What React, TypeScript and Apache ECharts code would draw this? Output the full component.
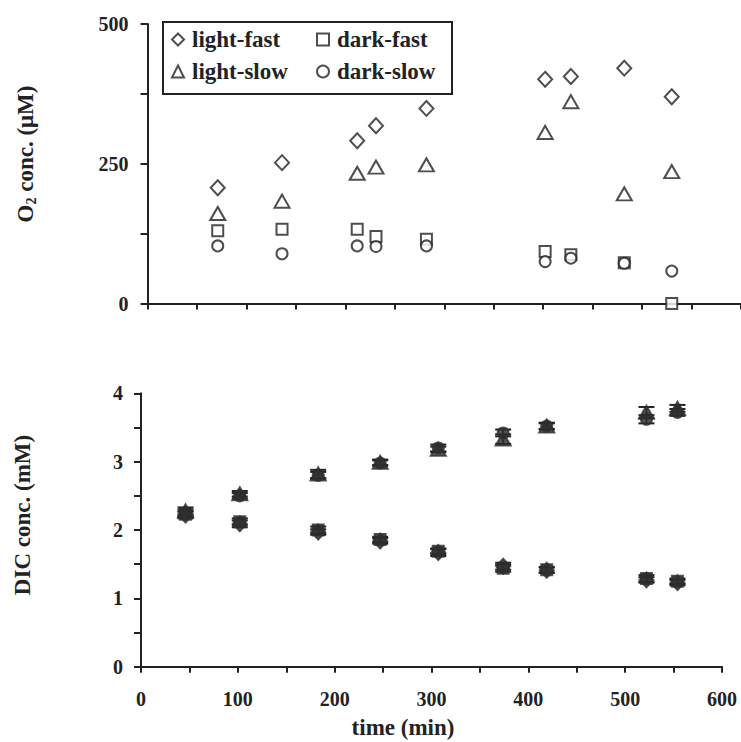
import React, { useEffect, useRef } from "react";
import * as echarts from "echarts";

// ---- Data ----
const SERIES_NAMES = ["light-fast", "dark-fast", "light-slow", "dark-slow"];

// O2 panel (top)
const O2_TIMES = [71, 136, 212, 231, 282, 402, 428, 482, 530];
const O2_LIGHT_FAST = [207, 252, 291, 318, 349, 401, 406, 421, 370];
const O2_LIGHT_SLOW = [161, 183, 233, 244, 248, 306, 361, 196, 236];
const O2_DARK_FAST = [130, 133, 133, 120, 115, 93, 87, 73, 0];
const O2_DARK_SLOW = [103, 89, 103, 102, 103, 75, 81, 72, 58];

// DIC panel (bottom)
const DIC_TIMES = [46, 102, 183, 247, 307, 374, 419, 522, 554];
const DIC_LIGHT_FAST = [2.22, 2.09, 1.97, 1.84, 1.67, 1.47, 1.41, 1.27, 1.23];
const DIC_DARK_FAST = [2.23, 2.12, 2.0, 1.86, 1.69, 1.44, 1.42, 1.29, 1.25];
const DIC_LIGHT_SLOW = [2.28, 2.53, 2.82, 2.99, 3.18, 3.33, 3.52, 3.72, 3.78];
const DIC_DARK_SLOW = [2.25, 2.5, 2.8, 2.98, 3.2, 3.42, 3.52, 3.62, 3.72];
const DIC_LIGHT_FAST_ERR = [0.05, 0.05, 0.04, 0.04, 0.05, 0.05, 0.04, 0.04, 0.04];
const DIC_DARK_FAST_ERR = [0.04, 0.05, 0.05, 0.04, 0.04, 0.05, 0.04, 0.05, 0.04];
const DIC_LIGHT_SLOW_ERR = [0.05, 0.04, 0.06, 0.04, 0.04, 0.07, 0.04, 0.08, 0.05];
const DIC_DARK_SLOW_ERR = [0.05, 0.04, 0.05, 0.04, 0.05, 0.05, 0.05, 0.06, 0.05];

const O2_Y_TICKS = [0, 250, 500];
const DIC_Y_TICKS = [0, 1, 2, 3, 4];
const TIME_TICKS = [0, 100, 200, 300, 400, 500, 600];

const FONT = "'Liberation Serif', 'Times New Roman', serif";
const INK = "#222222";

const SYMBOLS: Record<string, { symbol: string; size: number | number[] }> = {
  "light-fast": { symbol: "diamond", size: [14, 15] },
  "dark-fast": { symbol: "rect", size: 11 },
  "light-slow": { symbol: "triangle", size: [15, 13] },
  "dark-slow": { symbol: "circle", size: 11 },
};

function pairs(xs: number[], ys: number[]) {
  return xs.map((x, i) => [x, ys[i]]);
}
function triples(xs: number[], ys: number[], es: number[]) {
  return xs.map((x, i) => [x, ys[i], es[i]]);
}

export default function App() {
  const ref = useRef<HTMLDivElement>(null);

  useEffect(() => {
    if (!ref.current) return;
    const chart = echarts.init(ref.current, null, { renderer: "svg" });

    const o2Sets: Record<string, number[]> = {
      "light-fast": O2_LIGHT_FAST,
      "dark-fast": O2_DARK_FAST,
      "light-slow": O2_LIGHT_SLOW,
      "dark-slow": O2_DARK_SLOW,
    };
    const dicSets: Record<string, [number[], number[]]> = {
      "light-fast": [DIC_LIGHT_FAST, DIC_LIGHT_FAST_ERR],
      "dark-fast": [DIC_DARK_FAST, DIC_DARK_FAST_ERR],
      "light-slow": [DIC_LIGHT_SLOW, DIC_LIGHT_SLOW_ERR],
      "dark-slow": [DIC_DARK_SLOW, DIC_DARK_SLOW_ERR],
    };

    const topSeries = SERIES_NAMES.map((name) => ({
      name,
      type: "scatter",
      xAxisIndex: 0,
      yAxisIndex: 0,
      symbol: SYMBOLS[name].symbol,
      symbolSize: SYMBOLS[name].size,
      itemStyle: { color: "#ffffff", borderColor: INK, borderWidth: 2 },
      data: pairs(O2_TIMES, o2Sets[name]),
      z: 3,
    }));

    const errSeries = SERIES_NAMES.map((name) => ({
      name,
      type: "custom",
      xAxisIndex: 1,
      yAxisIndex: 1,
      encode: { x: 0, y: 1 },
      data: triples(DIC_TIMES, dicSets[name][0], dicSets[name][1]),
      renderItem: (params: any, api: any) => {
        const x = api.value(0);
        const y = api.value(1);
        const e = api.value(2);
        const hi = api.coord([x, y + e]);
        const lo = api.coord([x, y - e]);
        const hw = 8;
        const st = { stroke: INK, lineWidth: 2 };
        return {
          type: "group",
          children: [
            { type: "line", shape: { x1: hi[0], y1: hi[1], x2: lo[0], y2: lo[1] }, style: st },
            { type: "line", shape: { x1: hi[0] - hw, y1: hi[1], x2: hi[0] + hw, y2: hi[1] }, style: st },
            { type: "line", shape: { x1: lo[0] - hw, y1: lo[1], x2: lo[0] + hw, y2: lo[1] }, style: st },
          ],
        };
      },
      z: 2,
    }));

    const bottomSeries = SERIES_NAMES.map((name) => ({
      name,
      type: "scatter",
      xAxisIndex: 1,
      yAxisIndex: 1,
      symbol: SYMBOLS[name].symbol,
      symbolSize: SYMBOLS[name].size,
      itemStyle: { color: "#2e2e2e", borderColor: "#2e2e2e", borderWidth: 2 },
      data: pairs(DIC_TIMES, dicSets[name][0]),
      z: 3,
    }));

    const labelStyle = {
      color: INK,
      fontFamily: FONT,
      fontWeight: "bold" as const,
      fontSize: 20,
    };
    const axisLine = { show: true, lineStyle: { color: INK, width: 2 } };
    const legendText = { ...labelStyle, fontSize: 23, padding: [0, 0, 0, 3] };

    const option: any = {
      animation: false,
      backgroundColor: "#ffffff",
      textStyle: { fontFamily: FONT },
      grid: [
        { left: 147.5, top: 24, width: 595, height: 279.5, containLabel: false },
        { left: 141, top: 393.3, width: 581, height: 273.4, containLabel: false },
      ],
      legend: [
        {
          data: ["light-fast", "light-slow"],
          orient: "vertical",
          left: 166,
          top: 23,
          itemWidth: 12,
          itemHeight: 12,
          itemGap: 9,
          textStyle: legendText,
          selectedMode: false,
        },
        {
          data: ["dark-fast", "dark-slow"],
          orient: "vertical",
          left: 311,
          top: 23,
          itemWidth: 12,
          itemHeight: 12,
          itemGap: 9,
          textStyle: legendText,
          selectedMode: false,
        },
      ],
      xAxis: [
        {
          type: "value",
          gridIndex: 0,
          min: 0,
          max: 600,
          interval: 50,
          axisLine,
          axisTick: { show: true, inside: false, length: 6, lineStyle: { color: INK, width: 2 } },
          axisLabel: { show: false },
          splitLine: { show: false },
        },
        {
          type: "value",
          gridIndex: 1,
          min: 0,
          max: 600,
          interval: 50,
          axisLine,
          axisTick: { show: true, inside: false, length: 6, lineStyle: { color: INK, width: 2 } },
          axisLabel: {
            ...labelStyle,
            margin: 22,
            formatter: (v: number) => (TIME_TICKS.includes(v) ? String(v) : ""),
          },
          splitLine: { show: false },
        },
      ],
      yAxis: [
        {
          type: "value",
          gridIndex: 0,
          min: 0,
          max: 500,
          interval: 125,
          axisLine,
          axisTick: { show: true, inside: false, length: 7, lineStyle: { color: INK, width: 2 } },
          axisLabel: {
            ...labelStyle,
            margin: 19,
            formatter: (v: number) => (O2_Y_TICKS.includes(v) ? String(v) : ""),
          },
          splitLine: { show: false },
        },
        {
          type: "value",
          gridIndex: 1,
          min: 0,
          max: 4,
          interval: 0.5,
          axisLine,
          axisTick: { show: true, inside: false, length: 7, lineStyle: { color: INK, width: 2 } },
          axisLabel: {
            ...labelStyle,
            margin: 18,
            formatter: (v: number) => (DIC_Y_TICKS.includes(v) ? String(v) : ""),
          },
          splitLine: { show: false },
        },
      ],
      graphic: [
        {
          type: "rect",
          shape: { x: 163, y: 22, width: 289, height: 72 },
          style: { fill: "none", stroke: INK, lineWidth: 2 },
          z: 10,
        },
        {
          type: "text",
          x: 25,
          y: 154,
          rotation: Math.PI / 2,
          style: {
            text: "{a|O}{b|2}{a| conc. (μM)}",
            align: "center",
            verticalAlign: "middle",
            rich: {
              a: { fontFamily: FONT, fontWeight: "bold", fontSize: 23, fill: INK, lineHeight: 26 },
              b: {
                fontFamily: FONT,
                fontWeight: "bold",
                fontSize: 14,
                fill: INK,
                lineHeight: 14,
                verticalAlign: "bottom",
              },
            },
          },
        },
        {
          type: "text",
          x: 22,
          y: 515,
          rotation: Math.PI / 2,
          style: {
            text: "DIC conc. (mM)",
            align: "center",
            verticalAlign: "middle",
            fontFamily: FONT,
            fontWeight: "bold",
            fontSize: 23,
            fill: INK,
          },
        },
        {
          type: "text",
          x: 403,
          y: 727,
          style: {
            text: "time (min)",
            align: "center",
            verticalAlign: "middle",
            fontFamily: FONT,
            fontWeight: "bold",
            fontSize: 23,
            fill: INK,
          },
        },
      ],
      series: [...topSeries, ...errSeries, ...bottomSeries],
    };

    chart.setOption(option);
    return () => chart.dispose();
  }, []);

  return (
    <div
      ref={ref}
      style={{ position: "fixed", left: 0, top: 0, width: 741, height: 742, background: "#fff" }}
    />
  );
}
